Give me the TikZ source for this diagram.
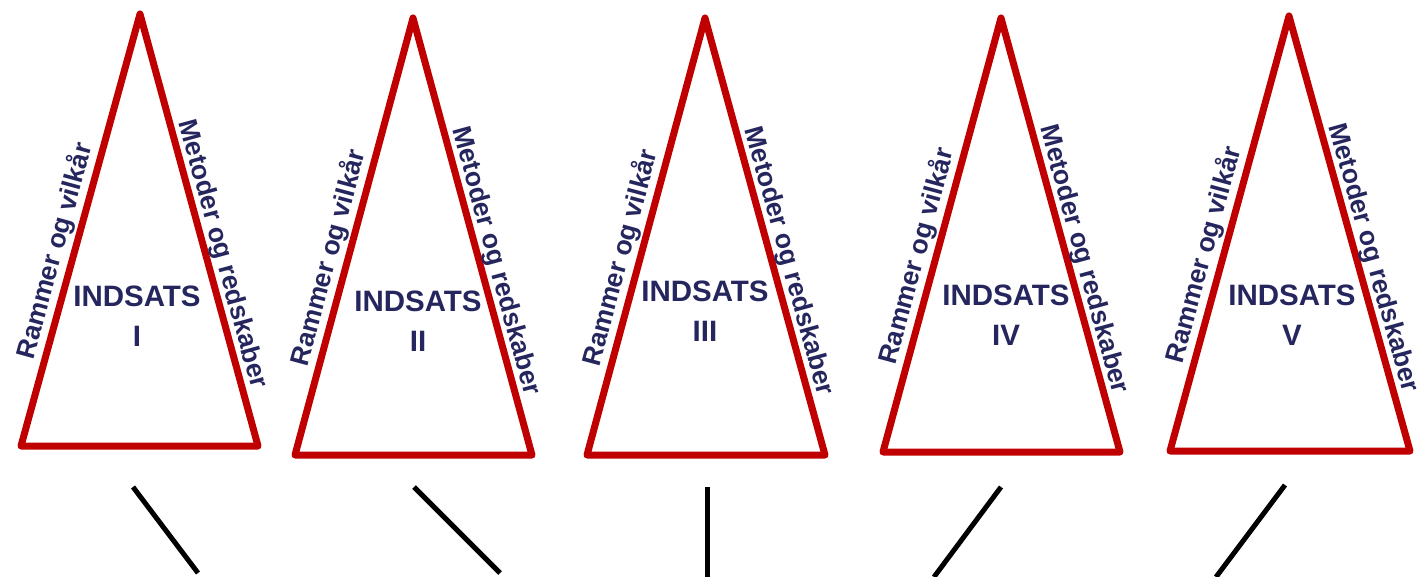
\documentclass[tikz,border=0pt]{standalone}
\usepackage{fontspec}
\setmainfont{Liberation Sans}
\definecolor{tred}{RGB}{192,0,0}
\definecolor{tnavy}{RGB}{38,38,94}
\tikzset{
  tri/.style={draw=tred, line width=7pt, line join=round},
  sidetxt/.style={sloped, inner sep=0pt, text=tnavy, font=\fontsize{26.5}{30}\selectfont\bfseries},
  midtxt/.style={anchor=base, inner sep=0pt, text=tnavy, font=\fontsize{29.5}{34}\selectfont\bfseries},
  stem/.style={draw=black, line width=5pt}
}
% #1 name, #2 apex x, #3 apex y, #4 left x, #5 right x, #6 base y, #7 text x, #8 baseline1, #9 numeral
\newcommand{\indsatstri}[9]{%
  \coordinate (#1top) at (#2,#3);
  \coordinate (#1bl) at (#4,#6);
  \coordinate (#1br) at (#5,#6);
  \draw[tri] (#1top) -- (#1br) -- (#1bl) -- cycle;
  \path (#1bl) -- node[sidetxt, above=5pt, pos=0.44] (#1left) {Rammer og vilkår} (#1top);
  \path (#1top) -- node[sidetxt, above=3pt, pos=0.566] (#1right) {Metoder og redskaber} (#1br);
  \node[midtxt] (#1title) at (#7,#8) {INDSATS};
  \node[midtxt] (#1num) at (#7,#8+40) {#9};
}
\begin{document}
\begin{tikzpicture}[x=1pt,y=-1pt]
\useasboundingbox (0,0) rectangle (1417,577);
\indsatstri{a}{140}{14}{21}{258}{446}{137}{307}{I}
\indsatstri{b}{413}{18}{295}{532}{455}{418}{312}{II}
\indsatstri{c}{705}{18}{587}{825}{455}{705}{302}{III}
\indsatstri{d}{1001}{18}{883}{1120}{452}{1006}{306}{IV}
\indsatstri{e}{1289}{16}{1170}{1410}{451}{1292}{306}{V}
% stems
\coordinate (s1a) at (133,487); \coordinate (s1b) at (198,573);
\coordinate (s2a) at (414,487); \coordinate (s2b) at (500,573);
\coordinate (s3a) at (707,487); \coordinate (s3b) at (707,577);
\coordinate (s4a) at (1001,487); \coordinate (s4b) at (934,577);
\coordinate (s5a) at (1285,485); \coordinate (s5b) at (1216,577);
\draw[stem] (s1a) -- (s1b);
\draw[stem] (s2a) -- (s2b);
\draw[stem] (s3a) -- (s3b);
\draw[stem] (s4a) -- (s4b);
\draw[stem] (s5a) -- (s5b);
\end{tikzpicture}
\end{document}
